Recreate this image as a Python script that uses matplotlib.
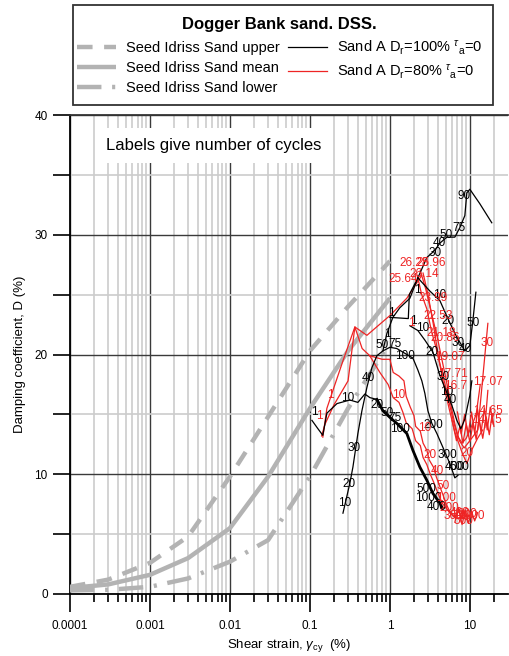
import matplotlib
matplotlib.use("Agg")
import matplotlib.pyplot as plt
from matplotlib.patches import Rectangle
from matplotlib.ticker import FixedLocator, NullFormatter, FixedFormatter

plt.rcParams['font.family'] = ['Liberation Sans', 'DejaVu Sans']
plt.rcParams['mathtext.fontset'] = 'custom'
plt.rcParams['mathtext.rm'] = 'Liberation Sans'
plt.rcParams['mathtext.it'] = 'Liberation Sans:italic'

# ---------------- data ----------------
si_strain = [1e-4, 3e-4, 1e-3, 3e-3, 0.01, 0.03, 0.1, 0.3, 1.0]
si_upper = [0.6, 1.2, 2.6, 4.8, 9.8, 14.8, 20.3, 24.0, 27.8]
si_mean = [0.5, 0.8, 1.6, 3.0, 5.5, 9.8, 15.5, 20.3, 24.7]
si_lower = [0.3, 0.35, 0.6, 1.3, 2.7, 4.5, 9.8, 15.5, 21.0]

# Sand A Dr=100% (black)
b1_x = [0.259, 0.316, 0.345, 0.398, 0.447, 0.516, 0.596, 0.688, 0.818, 1.0, 1.22, 1.54, 1.94,
        2.24, 2.51, 2.74, 2.99, 3.35, 3.87, 4.60, 5.62, 6.49, 7.08]
b1_d = [6.75, 9.25, 10.6, 13.4, 15.3, 17.25, 18.9, 19.9, 20.3, 20.6, 20.5, 20.1, 19.7,
        18.7, 17.8, 16.75, 15.3, 14.25, 13.4, 12.25, 10.9, 9.7, 9.9]
b2_x = [0.818, 0.917, 1.09, 1.33, 1.78, 2.24, 3.16, 4.22, 5.31, 6.68, 8.66, 10.0, 10.9, 11.9]
b2_d = [20.3, 21.75, 23.1, 23.9, 24.7, 26.4, 25.3, 24.5, 23.0, 21.6, 20.3, 20.75, 22.8, 25.2]
b3_x = [2.24, 2.90, 3.65, 4.22, 5.16, 6.49, 7.50, 8.66, 9.17, 10.0, 13.3, 18.8]
b3_d = [26.4, 28.1, 28.7, 29.3, 29.8, 29.8, 30.6, 31.6, 33.5, 33.8, 32.6, 31.0]
b4_x = [1.0, 1.7, 1.75, 2.24]
b4_d = [23.1, 23.0, 25.0, 26.4]
b5_x = [0.106, 0.126, 0.145, 0.163, 0.218, 0.316, 0.398, 0.487, 0.562, 0.688]
b5_d = [14.5, 13.8, 13.25, 15.1, 15.9, 16.2, 16.0, 16.7, 16.4, 16.25]
b5t_x = [0.688, 0.818, 1.0, 1.22, 1.63, 1.94, 2.37, 2.90, 3.45, 4.22, 4.5]
b5t_d = [16.25, 15.3, 14.75, 14.25, 13.4, 12.0, 10.6, 9.5, 8.4, 7.6, 7.2]
b6_x = [1.78, 2.24, 2.74, 3.45, 4.22, 5.16, 5.96, 6.88, 7.72, 8.66, 10.0, 10.6]
b6_d = [22.4, 22.0, 21.2, 20.2, 18.25, 16.8, 15.75, 14.5, 13.8, 14.6, 16.6, 17.8]

# Sand A Dr=80% (red)
r1_x = [0.145, 0.163, 0.194, 0.26, 0.365, 0.516, 1.0, 1.63, 2.18, 2.5]
r1_d = [13.1, 15.5, 17.0, 19.5, 22.3, 21.6, 23.25, 24.7, 26.0, 26.6]
r2_x = [0.14, 0.155, 0.2, 0.3, 0.365, 0.45, 0.56]
r2_d = [13.2, 14.2, 15.8, 17.8, 22.3, 20.5, 19.9]
r3_x = [0.56, 0.8, 1.0, 1.1, 1.3, 1.5, 1.6, 1.8, 2.0, 2.1, 2.4, 2.6, 2.9, 3.1, 3.5, 3.8, 4.2,
        4.6, 5.0, 5.5, 6.2, 7.0, 8.0, 9.0, 10.0]
r3_d = [19.9, 19.6, 19.6, 18.5, 18.2, 17.8, 16.5, 15.6, 14.9, 14.0, 13.6, 12.6, 12.0, 11.2,
        10.6, 9.8, 9.0, 8.3, 7.6, 7.0, 6.6, 6.3, 6.5, 6.2, 6.6]
r3b_x = [0.56, 0.75, 0.95, 1.1, 1.3, 1.45, 1.6, 1.9, 2.1, 2.4, 2.6, 2.9, 3.2, 3.6, 4.0, 4.5,
         5.0, 5.6, 6.4, 7.2, 8.0, 9.5, 10.5]
r3b_d = [19.9, 18.5, 17.5, 16.4, 16.0, 15.2, 14.3, 13.8, 12.8, 12.4, 11.4, 10.8, 10.0, 9.2,
         8.4, 7.6, 7.2, 6.8, 6.4, 6.9, 6.3, 6.6, 6.4]
r4a_x = [2.2, 2.5, 2.9, 3.3, 3.8, 4.3, 4.9, 5.5, 6.2, 7.0, 8.0, 9.0, 10.5, 12.0, 13.5]
r4a_d = [26.6, 25.0, 23.8, 22.0, 20.5, 19.0, 17.5, 16.0, 14.5, 13.2, 12.6, 13.0, 14.0, 15.0, 17.5]
r4b_x = [2.4, 2.8, 3.3, 3.9, 4.5, 5.2, 5.9, 6.6, 7.4, 8.5, 10.0, 12.6, 16.8]
r4b_d = [27.0, 25.5, 23.5, 21.5, 19.5, 17.5, 15.5, 14.0, 12.8, 12.2, 12.8, 13.7, 22.6]
r4c_x = [2.6, 3.0, 3.5, 4.0, 4.6, 5.5, 6.5, 8.0, 9.2, 10.5, 12.5, 14.5]
r4c_d = [26.8, 25.0, 22.5, 20.0, 17.8, 15.5, 13.5, 11.8, 10.9, 12.0, 13.0, 13.7]
r5_x = [6.0, 6.8, 7.5, 8.2, 9.0, 10.0, 11.0, 12.0, 13.0, 14.5, 16.0, 17.5, 19.0, 20.0]
r5_d = [14.5, 12.8, 14.0, 12.6, 14.2, 12.7, 14.3, 12.9, 14.6, 13.0, 14.8, 13.3, 15.0, 14.0]
r6_x = [7.0, 7.8, 8.6, 9.5, 10.5, 11.5, 12.5, 13.8, 15.2, 16.5, 18.0, 19.5]
r6_d = [15.2, 13.4, 15.0, 13.3, 15.2, 13.4, 15.4, 13.5, 15.5, 13.7, 15.6, 14.2]
r7_x = [15.4, 16.8]
r7_d = [13.9, 17.0]
r8_x = [6.5, 7.2, 8.0, 8.8, 9.6, 10.5, 11.5, 12.5]
r8_d = [6.0, 7.2, 5.8, 7.0, 5.9, 6.9, 6.1, 6.8]

black_paths = [(b1_x, b1_d), (b2_x, b2_d), (b3_x, b3_d), (b4_x, b4_d), (b5_x, b5_d), (b6_x, b6_d)]
black_thick = [(b5t_x, b5t_d)]
red_paths = [(r1_x, r1_d), (r2_x, r2_d), (r3_x, r3_d), (r3b_x, r3b_d), (r4a_x, r4a_d),
             (r4b_x, r4b_d), (r4c_x, r4c_d), (r5_x, r5_d), (r6_x, r6_d), (r7_x, r7_d), (r8_x, r8_d)]

black_labels = ["10", "20", "30", "40", "50", "75", "100", "200", "300", "400", "500",
                "1", "10", "20", "50", "75", "100", "500", "1000", "400",
                "30", "40", "50", "75", "90",
                "10", "20", "30", "40", "50",
                "1", "10", "20", "30", "10", "40",
                "1", "1", "1"]
black_lx = [0.27, 0.31, 0.36, 0.53, 0.80, 1.15, 1.55, 3.45, 5.2, 6.4, 7.4,
            0.115, 0.30, 0.69, 0.92, 1.15, 1.33, 2.9, 3.0, 3.85,
            3.65, 4.2, 5.1, 7.3, 8.5,
            4.2, 5.3, 7.1, 8.9, 10.9,
            1.94, 2.6, 3.4, 4.6, 5.2, 5.7,
            0.92, 1.05, 2.2]
black_ld = [7.6, 9.2, 12.2, 18.0, 20.8, 20.9, 19.9, 14.1, 11.6, 10.6, 10.6,
            15.2, 16.4, 15.75, 15.1, 14.7, 13.8, 8.8, 8.0, 7.25,
            28.5, 29.3, 30.0, 30.6, 33.2,
            25.0, 22.8, 21.0, 20.5, 22.6,
            22.8, 22.2, 20.2, 18.1, 16.9, 16.2,
            21.7, 23.5, 25.4]

red_labels = ["1", "1", "1", "10", "10", "20", "40", "50", "100", "200", "300", "400", "500",
              "900", "1000",
              "25.64", "26.28", "25.96", "26.14", "23.99", "22.53", "21.18", "20.86", "19.07",
              "17.71", "16.7", "17.07", "14.65", "14.75", "30", "20"]
red_lx = [0.13, 0.18, 1.85, 1.27, 2.7, 3.2, 3.9, 4.6, 5.0, 5.6, 6.3, 7.4, 8.4,
          9.4, 10.5,
          1.45, 1.99, 3.25, 2.7, 3.45, 3.97, 4.4, 4.87, 5.62,
          6.1, 6.7, 16.8, 16.8, 16.3, 16.3, 9.2]
red_ld = [14.9, 16.6, 22.6, 16.6, 13.9, 11.6, 10.3, 9.0, 8.0, 7.2, 6.5, 6.8, 6.1,
          6.7, 6.5,
          26.3, 27.6, 27.6, 26.75, 24.7, 23.25, 21.8, 21.4, 19.75,
          18.4, 17.4, 17.7, 15.3, 14.5, 21.0, 11.8]

x_ticks = [1e-4, 1e-3, 1e-2, 0.1, 1, 10]
x_ticklabels = ["0.0001", "0.001", "0.01", "0.1", "1", "10"]
y_ticks = [0, 10, 20, 30, 40]

# ---------------- figure ----------------
W, H = 509, 656
fig = plt.figure(figsize=(W / 100, H / 100), dpi=100)
ax = fig.add_axes([70 / W, 62 / H, 438 / W, 479 / H])
ax.set_xscale('log')
ax.set_xlim(1e-4, 30)
ax.set_ylim(0, 40)

minor_x = [m * 10.0 ** e for e in range(-4, 2) for m in range(2, 10)]
minor_x = [v for v in minor_x if v < 30]
ax.xaxis.set_major_locator(FixedLocator(x_ticks))
ax.xaxis.set_major_formatter(FixedFormatter(x_ticklabels))
ax.xaxis.set_minor_locator(FixedLocator(minor_x))
ax.xaxis.set_minor_formatter(NullFormatter())
ax.yaxis.set_major_locator(FixedLocator(y_ticks))
ax.yaxis.set_minor_locator(FixedLocator([5, 15, 25, 35]))

ax.grid(which='minor', color='#cccccc', lw=1.2, zorder=0)
ax.grid(which='major', color='#3a3a3a', lw=1.0, zorder=0)
ax.set_axisbelow(True)

ax.tick_params(axis='x', which='major', direction='out', length=13, width=1.2, labelsize=8.5, pad=6)
ax.tick_params(axis='x', which='minor', direction='out', length=6, width=1.2)
ax.tick_params(axis='y', which='both', direction='out', length=12, width=1.2, labelsize=8.5, pad=4)
for s in ['left', 'bottom', 'top']:
    ax.spines[s].set_linewidth(1.3)
    ax.spines[s].set_color('black')
ax.spines['top'].set_color('#333333')
ax.spines['right'].set_visible(False)

gray = '#b3b3b3'
h_up, = ax.plot(si_strain, si_upper, color=gray, lw=3.2, dashes=(3.5, 2.6),
                label='Seed Idriss Sand upper', zorder=3)
h_mean, = ax.plot(si_strain, si_mean, color=gray, lw=3.2, solid_capstyle='butt',
                  label='Seed Idriss Sand mean', zorder=3)
h_low, = ax.plot(si_strain, si_lower, color=gray, lw=3.2, dashes=(5.5, 2.4, 0.7, 2.4),
                 label='Seed Idriss Sand lower', zorder=3)

red = '#ee2424'
h_black = None
for i, (xs, ds) in enumerate(black_paths):
    l, = ax.plot(xs, ds, color='black', lw=0.9, zorder=5,
                 label=r'Sand A D$_{\rm r}$=100% $^{\tau}$$_{\rm a}$=0' if i == 0 else None)
    if i == 0:
        h_black = l
for xs, ds in black_thick:
    ax.plot(xs, ds, color='black', lw=2.0, zorder=5)
h_red = None
for i, (xs, ds) in enumerate(red_paths):
    l, = ax.plot(xs, ds, color=red, lw=0.9, zorder=4,
                 label=r'Sand A D$_{\rm r}$=80% $^{\tau}$$_{\rm a}$=0' if i == 0 else None)
    if i == 0:
        h_red = l

for t, x, d in zip(black_labels, black_lx, black_ld):
    ax.text(x, d, t, color='black', fontsize=8.5, ha='center', va='center', zorder=6, clip_on=True)
for t, x, d in zip(red_labels, red_lx, red_ld):
    ax.text(x, d, t, color=red, fontsize=8.5, ha='center', va='center', zorder=6, clip_on=True)

ax.text(0.329, 0.937, 'Labels give number of cycles', transform=ax.transAxes, fontsize=12,
        ha='center', va='center', zorder=7,
        bbox=dict(boxstyle='square,pad=0.6', fc='white', ec='none'))

ax.set_xlabel(r'Shear strain, $\gamma_{\rm cy}$  (%)', fontsize=9.5, labelpad=3)
ax.set_ylabel('Damping coefficient, D (%)', fontsize=9.5, labelpad=6)

# legend frame (drawn in figure coordinates) and legend contents
frame = Rectangle((73 / W, 1 - 105 / H), 420 / W, 100 / H, transform=fig.transFigure,
                  fc='white', ec='#333333', lw=1.3, zorder=9, clip_on=False)
ax.add_artist(frame)
leg = ax.legend(handles=[h_up, h_mean, h_low, h_black, h_red], ncol=2,
                loc='upper left', mode='expand',
                bbox_to_anchor=(77 / W, 1 - 17 / H, 405 / W, 0.0),
                bbox_transform=fig.transFigure, borderaxespad=0, borderpad=0,
                title='Dogger Bank sand. DSS.', title_fontproperties={'weight': 'bold', 'size': 12},
                fontsize=10.5, handlelength=2.7, handletextpad=0.65, labelspacing=0.42,
                frameon=False)
leg.set_zorder(20)

fig.savefig('out.png', dpi=100)
